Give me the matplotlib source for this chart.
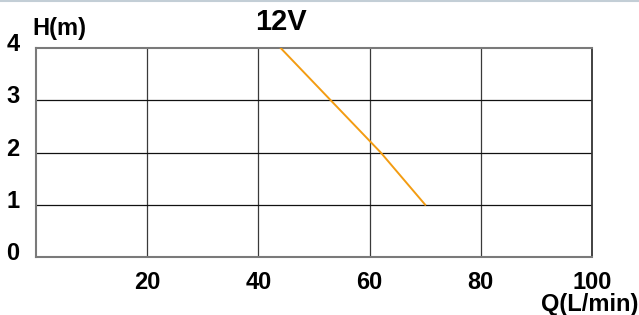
import matplotlib
matplotlib.use("Agg")
import matplotlib.pyplot as plt
from matplotlib.lines import Line2D
from matplotlib.transforms import ScaledTranslation

plt.rcParams["font.family"] = ["Liberation Sans", "DejaVu Sans"]
plt.rcParams["font.weight"] = "bold"

# pump curve, 12V
flow = [44, 53, 62, 70]       # Q (L/min)
head = [4, 3, 2, 1]           # H (m)
x_ticks = [20, 40, 60, 80, 100]
y_ticks = [0, 1, 2, 3, 4]

fig = plt.figure(figsize=(6.39, 3.15), dpi=100)
ax = fig.add_axes([36 / 639, 58 / 315, 556 / 639, 209 / 315])

ax.set_xlim(0, 100)
ax.set_ylim(0, 4)

for x in x_ticks[:-1]:
    ax.axvline(x, color="#3a3a3a", linewidth=0.9, zorder=1)
for y in y_ticks[1:-1]:
    ax.axhline(y, color="#111111", linewidth=0.9, zorder=1)

ax.plot(flow, head, color="#f39c12", linewidth=1.4, zorder=3)

for side in ["top", "left", "bottom"]:
    ax.spines[side].set_color("#7a7a7a")
    ax.spines[side].set_linewidth(1.5)
ax.spines["right"].set_color("#333333")
ax.spines["right"].set_linewidth(1.3)

ax.set_xticks(x_ticks)
ax.set_xticklabels([str(v) for v in x_ticks], fontsize=17, fontweight="bold")
ax.set_yticks(y_ticks)
ax.set_yticklabels([str(v) for v in y_ticks], fontsize=17, fontweight="bold")
ax.tick_params(axis="x", length=0, pad=10)
ax.tick_params(axis="y", length=0, pad=12)
shift = ScaledTranslation(0, 6 / 100, fig.dpi_scale_trans)
for lab in ax.get_yticklabels():
    lab.set_transform(lab.get_transform() + shift)

fig.text(32 / 639, 1 - 29 / 315, "H(m)", fontsize=17, fontweight="bold",
         ha="left", va="center")
fig.text(281 / 639, 1 - 22 / 315, "12V", fontsize=21, fontweight="bold",
         ha="center", va="center")
fig.text(638 / 639, 1 - 304 / 315, "Q(L/min)", fontsize=17, fontweight="bold",
         ha="right", va="center")

fig.add_artist(Line2D([0, 1], [0.997, 0.997], transform=fig.transFigure,
                      color="#c3ced6", linewidth=1.5))

fig.savefig("out.png", dpi=100)
